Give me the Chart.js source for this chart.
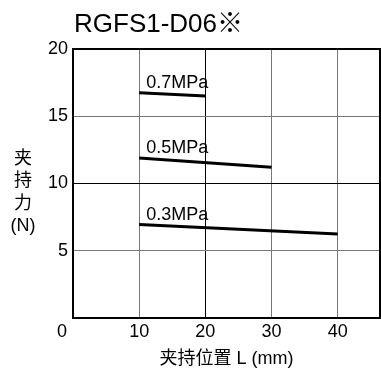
<!DOCTYPE html>
<html>
<head>
<meta charset="utf-8">
<script src="https://cdn.jsdelivr.net/npm/chart.js@4"></script>
<style>
  html, body { margin: 0; padding: 0; background: #fff; }
  #wrap { width: 381px; height: 370px; }
</style>
</head>
<body>
<div id="wrap"><canvas id="chart" width="381" height="370"></canvas></div>
<script>
// Clamping force vs clamp position, RGFS1-D06
const chartTitle = 'RGFS1-D06※';
const yTitle     = ['夹', '持', '力', '(N)'];
const xTitle     = '夹持位置 L (mm)';

const pressures  = ['0.7MPa', '0.5MPa', '0.3MPa'];
const pos07      = [10, 20];
const force07    = [16.75, 16.5];
const pos05      = [10, 30];
const force05    = [11.9, 11.2];
const pos03      = [10, 40];
const force03    = [6.95, 6.25];

const xTicks = [0, 10, 20, 30, 40];
const yTicks = [0, 5, 10, 15, 20];
const originLabel = '0';

const FONT = "'Liberation Sans', 'Noto Sans CJK SC', Arial, sans-serif";

function toPoints(xs, ys) {
  return xs.map((x, i) => ({ x, y: ys[i] }));
}

const series = [
  toPoints(pos07, force07),
  toPoints(pos05, force05),
  toPoints(pos03, force03),
];

// frame, title, y title, origin label and the pressure labels
const decorations = {
  id: 'decorations',
  afterDatasetsDraw(chart) {
    const { ctx, chartArea: a } = chart;
    ctx.save();

    ctx.strokeStyle = '#000';
    ctx.lineWidth = 2;
    ctx.beginPath();
    ctx.moveTo(a.left, a.top);
    ctx.lineTo(a.right, a.top);
    ctx.lineTo(a.right, a.bottom);
    ctx.stroke();

    ctx.fillStyle = '#000';
    ctx.font = '26px ' + FONT;
    ctx.textAlign = 'left';
    ctx.textBaseline = 'middle';
    ctx.fillText(chartTitle, a.left + 1, 25);

    ctx.font = '18px ' + FONT;
    ctx.textAlign = 'center';
    yTitle.forEach((t, i) => ctx.fillText(t, 23, 159 + i * 22.5));

    // origin "0" sits left of the corner, on the x tick row
    ctx.fillText(originLabel, a.left - 11, a.bottom + 14);

    ctx.textAlign = 'left';
    ctx.textBaseline = 'alphabetic';
    chart.data.datasets.forEach((ds, i) => {
      const p = chart.getDatasetMeta(i).data[0];
      ctx.fillText(pressures[i], p.x + 7, p.y - 5);
    });

    ctx.restore();
  }
};

new Chart(document.getElementById('chart'), {
  type: 'scatter',
  data: {
    datasets: series.map((pts, i) => ({
      label: pressures[i],
      data: pts,
      showLine: true,
      borderColor: '#000',
      borderWidth: 3,
      pointRadius: 0,
      fill: false,
    })),
  },
  options: {
    responsive: false,
    animation: false,
    layout: { padding: { top: 49, right: 1, left: 0, bottom: 0 } },
    plugins: {
      legend: { display: false },
      tooltip: { enabled: false },
    },
    scales: {
      x: {
        type: 'linear',
        min: 0,
        max: 46.4,
        afterFit: s => { s.height = 52; },
        afterBuildTicks: s => { s.ticks = xTicks.map(v => ({ value: v })); },
        ticks: {
          includeBounds: false,
          padding: 3,
          color: '#000',
          font: { family: FONT, size: 18 },
          callback: v => (v === 0 ? '' : v),
        },
        grid: {
          drawTicks: false,
          lineWidth: 1,
          color: c => (c.tick && c.tick.value === 20 ? '#000' : '#777'),
        },
        border: { color: '#000', width: 2 },
        title: {
          display: true,
          text: xTitle,
          color: '#000',
          font: { family: FONT, size: 18 },
          padding: { top: 0, bottom: 0 },
        },
      },
      y: {
        min: 0,
        max: 20,
        afterFit: s => { s.width = 73; },
        afterBuildTicks: s => { s.ticks = yTicks.map(v => ({ value: v })); },
        ticks: {
          padding: 5,
          color: '#000',
          font: { family: FONT, size: 18 },
          callback: v => (v === 0 ? '' : v),
        },
        grid: {
          drawTicks: false,
          lineWidth: 1,
          color: c => (c.tick && c.tick.value === 10 ? '#000' : '#777'),
        },
        border: { color: '#000', width: 2 },
      },
    },
  },
  plugins: [decorations],
});
</script>
</body>
</html>
